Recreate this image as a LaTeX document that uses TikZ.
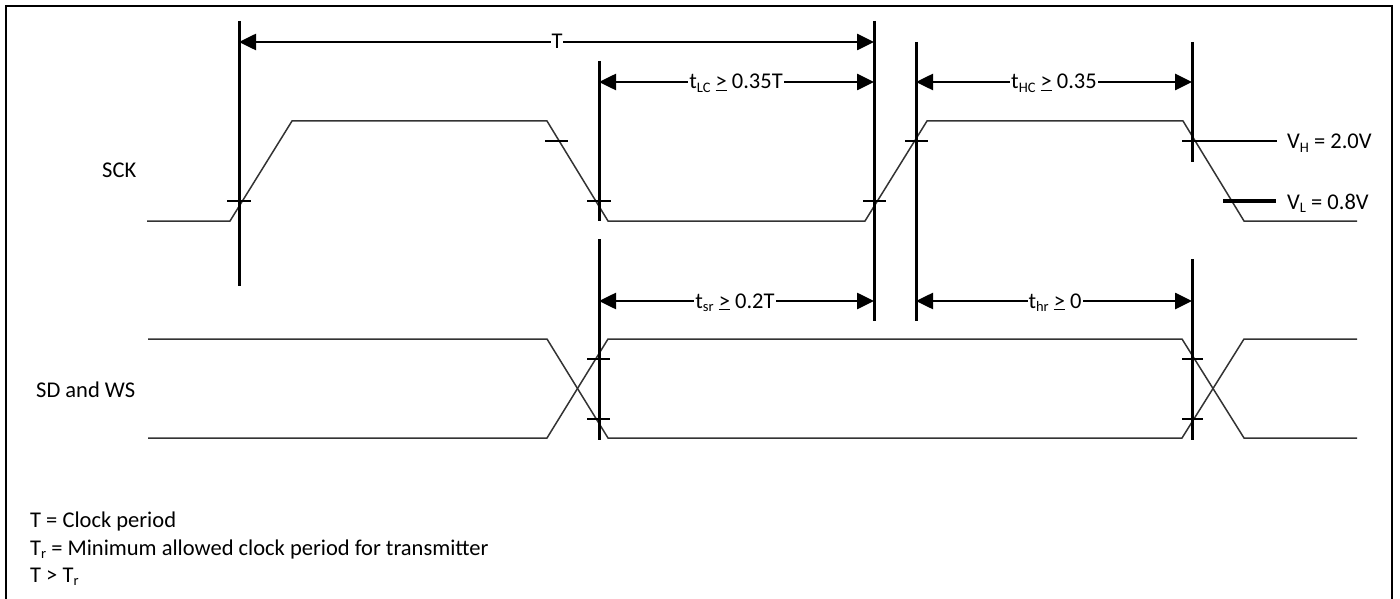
\documentclass[tikz,border=0pt]{standalone}
\usepackage{fontspec}
\setmainfont{Carlito}
\usetikzlibrary{arrows.meta}
\newcommand{\sbs}[1]{\raisebox{-0.35ex}{\fontsize{14.5}{14.5}\selectfont #1}}
\begin{document}
\begin{tikzpicture}[x=1pt,y=-1pt,
  wave/.style={line width=1.5pt, black!80, line join=miter},
  vline/.style={line width=3pt},
  tickmark/.style={line width=2pt},
  dim/.style={line width=2.6pt, {Triangle[length=17pt,width=16pt]}-{Triangle[length=17pt,width=16pt]}},
  lbl/.style={fill=white, inner sep=1pt, anchor=base, font=\fontsize{22.5}{26}\selectfont},
  txt/.style={inner sep=0pt, anchor=base west, font=\fontsize{22.5}{26}\selectfont}
]
\useasboundingbox (0,0) rectangle (1400,599);
% frame
\draw[line width=2pt] (6,612) -- (6,6) -- (1392,6) -- (1392,612);

% coordinates of the timing verticals
\coordinate (A1) at (239,21);  \coordinate (A2) at (239,286);
\coordinate (B1) at (599,61);  \coordinate (B2) at (599,221);
\coordinate (B3) at (599,239); \coordinate (B4) at (599,440);
\coordinate (C1) at (874,21);  \coordinate (C2) at (874,321);
\coordinate (D1) at (916,42);  \coordinate (D2) at (916,321);
\coordinate (E1) at (1192,42); \coordinate (E2) at (1192,162);
\coordinate (E3) at (1192,259);\coordinate (E4) at (1192,440);

% SCK waveform
\draw[wave] (147,221) -- (230,221) -- (292,121) -- (547,121) -- (608,221)
  -- (865,221) -- (927,121) -- (1183,121) -- (1244,221) -- (1357,221);
% SD and WS waveform
\draw[wave] (148,339) -- (547,339) -- (608,438) -- (1182,438) -- (1244,339) -- (1357,339);
\draw[wave] (148,438) -- (547,438) -- (608,339) -- (1182,339) -- (1244,438) -- (1357,438);

% verticals
\draw[vline] (A1) -- (A2);
\draw[vline] (B1) -- (B2);
\draw[vline] (B3) -- (B4);
\draw[vline] (C1) -- (C2);
\draw[vline] (D1) -- (D2);
\draw[vline] (E1) -- (E2);
\draw[vline] (E3) -- (E4);

% threshold ticks
\draw[tickmark] (227,201) -- (251,201);
\draw[tickmark] (545,141) -- (568,141);
\draw[tickmark] (587,201) -- (611,201);
\draw[tickmark] (863,201) -- (886,201);
\draw[tickmark] (905,141) -- (928,141);
\draw[tickmark] (587,359) -- (610,359);
\draw[tickmark] (587,419) -- (610,419);
\draw[tickmark] (1182,359) -- (1203,359);
\draw[tickmark] (1182,419) -- (1203,419);

% V_H / V_L lines
\coordinate (VH1) at (1182,141); \coordinate (VH2) at (1277,141);
\coordinate (VL1) at (1223,201); \coordinate (VL2) at (1276,201);
\draw[line width=2.6pt] (VH1) -- (VH2);
\draw[line width=4pt] (VL1) -- (VL2);
\node[txt] (vh) at (1287,149) {V\sbs{H} = 2.0V};
\node[txt] (vl) at (1287,209) {V\sbs{L} = 0.8V};

% dimension arrows
\coordinate (tA) at (239,42);  \coordinate (tC) at (874,42);
\coordinate (lB) at (599,82);  \coordinate (lC) at (874,82);
\coordinate (hD) at (916,82);  \coordinate (hE) at (1192,82);
\coordinate (sB) at (599,301); \coordinate (sC) at (874,301);
\coordinate (rD) at (916,301); \coordinate (rE) at (1192,301);
\draw[dim] (tA) -- (tC);
\draw[dim] (lB) -- (lC);
\draw[dim] (hD) -- (hE);
\draw[dim] (sB) -- (sC);
\draw[dim] (rD) -- (rE);
\node[lbl] (lT) at (557,49) {T};
\node[lbl] (lLC) at (736,89) {t\sbs{LC} \underline{>} 0.35T};
\node[lbl] (lHC) at (1054,89) {t\sbs{HC} \underline{>} 0.35};
\node[lbl] (lsr) at (735,308) {t\sbs{sr} \underline{>} 0.2T};
\node[lbl] (lhr) at (1055,308) {t\sbs{hr} \underline{>} 0};

% signal names
\node[txt] (sck) at (102,177) {SCK};
\node[txt] (sdws) at (36,397) {SD and WS};

% legend
\node[txt] (leg1) at (30,527) {T = Clock period};
\node[txt] (leg2) at (30,555) {T\sbs{r} = Minimum allowed clock period for transmitter};
\node[txt] (leg3) at (30,582) {T > T\sbs{r}};
\end{tikzpicture}
\end{document}
